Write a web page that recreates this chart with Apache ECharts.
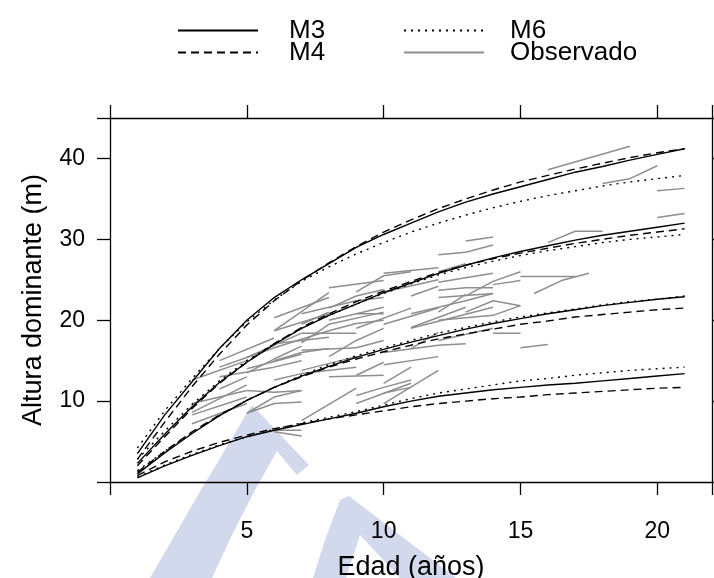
<!DOCTYPE html>
<html>
<head>
<meta charset="utf-8">
<script src="https://cdn.jsdelivr.net/npm/echarts@6/dist/echarts.min.js"></script>
<style>html,body{margin:0;padding:0;background:#fff}#c{width:714px;height:578px}</style>
</head>
<body>
<div id="c"></div>
<script>
// ---- data ----
var ages = [1,2,3,4,5,6,7,8,9,10,11,12,13,14,15,16,17,18,19,20,21];
var xTicks = [0,5,10,15,20];
var yTicks = [0,10,20,30,40];

// M3 (solid) — four site-index curves
var m3A = [3.5,8.3,12.4,16.5,20.0,22.8,25.0,27.0,29.0,30.6,32.0,33.4,34.6,35.6,36.5,37.4,38.3,39.0,39.8,40.5,41.2];
var m3B = [2.3,5.9,9.3,12.3,14.8,17.0,19.0,20.6,22.0,23.4,24.6,25.8,26.8,27.7,28.5,29.2,29.9,30.5,31.0,31.5,32.0];
var m3C = [1.0,3.6,6.0,8.2,10.1,11.7,13.1,14.3,15.4,16.4,17.3,18.1,18.9,19.6,20.2,20.8,21.3,21.8,22.2,22.6,22.9];
var m3D = [0.5,2.0,3.3,4.5,5.6,6.4,7.1,7.8,8.5,9.3,10.0,10.6,11.0,11.4,11.7,12.0,12.2,12.5,12.8,13.1,13.4];
// M4 (dashed)
var m4A = [2.8,7.4,11.8,15.8,19.4,22.4,24.9,27.1,29.1,30.9,32.4,33.8,35.0,36.1,37.1,37.9,38.7,39.4,40.1,40.7,41.2];
var m4B = [2.0,5.6,9.1,12.2,14.8,17.1,19.1,20.8,22.3,23.6,24.8,25.9,26.8,27.6,28.3,28.9,29.5,30.0,30.5,30.9,31.3];
var m4C = [1.2,3.8,6.2,8.3,10.1,11.7,13.0,14.2,15.2,16.1,16.9,17.7,18.3,18.9,19.5,19.9,20.4,20.7,21.0,21.3,21.5];
var m4D = [0.8,2.5,3.8,4.9,5.8,6.6,7.2,7.8,8.3,8.8,9.3,9.7,10.0,10.3,10.5,10.8,11.0,11.2,11.4,11.6,11.7];
// M6 (dotted)
var m6A = [4.2,8.8,12.8,16.5,19.8,22.5,24.8,26.6,28.2,29.6,30.9,32.0,33.0,33.9,34.7,35.4,36.0,36.6,37.1,37.5,37.9];
var m6B = [2.8,6.3,9.6,12.5,15.0,17.1,19.0,20.6,22.0,23.3,24.5,25.6,26.5,27.3,28.0,28.6,29.1,29.6,30.0,30.3,30.6];
var m6C = [1.4,3.8,6.1,8.2,10.1,11.7,13.2,14.5,15.6,16.6,17.5,18.4,19.1,19.8,20.4,20.9,21.4,21.9,22.3,22.6,23.0];
var m6D = [0.6,2.1,3.4,4.6,5.6,6.5,7.3,8.0,8.7,9.5,10.3,11.0,11.5,12.0,12.5,12.8,13.2,13.5,13.8,14.0,14.2];

// Observed plots: [age, height] pairs per plot
var observed = [
 [[16,38.6],[19,41.5]],
 [[18,36.9],[19,37.5],[20,39.1]],
 [[20,36.0],[21,36.3]],
 [[20,32.7],[21,33.2]],
 [[16,29.6],[17,31.0],[18,31.0]],
 [[13,29.8],[14,30.3]],
 [[12,28.1],[13,28.4],[14,29.3]],
 [[15,25.4],[17,25.4]],
 [[15.5,23.3],[16.5,24.9],[17.5,25.8]],
 [[14,24.4],[15,24.9]],
 [[10,25.8],[12,26.5]],
 [[12,23.7],[13,24.0],[14,24.0]],
 [[12,22.8],[14,23.3]],
 [[12,24.7],[14,25.8]],
 [[11,20.8],[13,22.4],[14,23.3]],
 [[11,19.0],[14,21.6]],
 [[13,21.0],[14,22.4],[15,21.8]],
 [[12,20.0],[14,20.6]],
 [[15,16.6],[16,17.0]],
 [[14,18.4],[15,18.4]],
 [[14,20.6],[15,21.8]],
 [[11,19.1],[13,21.6]],
 [[10,16.0],[12,16.9],[13,17.1]],
 [[10,12.2],[11,14.2]],
 [[10,9.7],[12,13.8]],
 [[10,11.0],[11,11.7]],
 [[9,10.7],[10,11.7],[11,12.6]],
 [[9,9.7],[11,12.2]],
 [[7,7.6],[9,11.6]],
 [[6,6.4],[7,6.4]],
 [[6,6.2],[7,5.7]],
 [[5,8.5],[6,9.7],[7,9.9]],
 [[5,8.5],[6,10.5],[7,11.3]],
 [[3,7.2],[5,9.7]],
 [[3,8.6],[5,12.0]],
 [[5,11.3],[6,11.1],[7,11.3]],
 [[3,8.3],[5,10.5]],
 [[8,24.0],[10,24.9]],
 [[6,18.7],[8,23.4]],
 [[7,20.8],[9,22.4],[10,22.8]],
 [[8,20.0],[10,21.6]],
 [[8,18.7],[9,19.6],[10,20.0]],
 [[7,18.4],[9,18.4]],
 [[6,16.6],[8,18.7]],
 [[9,20.8],[10,20.8]],
 [[9,16.6],[10,17.5]],
 [[6,18.7],[8,20.8]],
 [[5,15.4],[7,18.4]],
 [[6,17.1],[8,17.9]],
 [[4,13.0],[6,14.2],[7,15.0]],
 [[3,9.7],[5,11.3]],
 [[7,16.3],[9,16.6]],
 [[6,12.6],[7,13.4],[9,14.2]],
 [[8,13.0],[10,13.2]],
 [[4,14.2],[5,15.4],[6,16.6]],
 [[3,12.6],[5,15.0]],
 [[6,20.3],[8,22.8]],
 [[10,23.5],[12,25.0]],
 [[12,17.5],[14,19.0]],
 [[10,14.5],[12,15.5]],
 [[4,15.0],[6,17.8]],
 [[5,13.5],[6,15.2],[7,16.8]],
 [[7,17.2],[8,19.5],[10,21.0]],
 [[8,21.5],[9,23.0],[10,23.8]],
 [[7,19.5],[8,21.0]],
 [[5,14.0],[7,15.8]],
 [[9,19.0],[11,21.5]],
 [[10,19.5],[11,20.5],[12,21.5]],
 [[11,23.0],[12,24.2]],
 [[9,23.5],[10,25.5],[11,26.0]],
 [[12,26.0],[13,27.0]],
 [[6,15.0],[7,16.0],[8,16.5]],
 [[4,11.5],[5,13.0]],
 [[8,15.5],[9,17.5],[10,19.0]],
 [[11,16.5],[12,18.5]],
 [[13,23.0],[14,24.8],[15,26.0]],
 [[7,13.8],[9,15.5]],
 [[9,13.2],[10,14.8]],
 [[12,21.0],[13,23.2]]
];

// ---- chart ----
var FONT = "'Liberation Sans', Arial, sans-serif";
var chart = echarts.init(document.getElementById('c'), null, {renderer: 'canvas'});
function zipAge(vals){ return ages.map(function(a,i){ return [a, vals[i]]; }); }

var axisLineStyle = {color: '#000', width: 1.3};
var series = [];
observed.forEach(function(seg){
  series.push({name: 'Observado', type: 'line', data: seg, symbol: 'none', showSymbol: false,
    lineStyle: {color: '#8e8e8e', width: 1.5, type: 'solid'}, itemStyle: {color: '#8e8e8e'},
    z: 2, silent: true, animation: false});
});
function model(name, arr, type){
  arr.forEach(function(v){
    series.push({name: name, type: 'line', data: zipAge(v), symbol: 'none', showSymbol: false,
      lineStyle: {color: '#000', width: 1.4, type: type}, itemStyle: {color: '#000'},
      z: 3, silent: true, animation: false});
  });
}
model('M3', [m3A, m3B, m3C, m3D], 'solid');
model('M4', [m4A, m4B, m4C, m4D], [8, 5]);
model('M6', [m6A, m6B, m6C, m6D], [2, 5]);

function legendCfg(left, data, padLeft){
  return {
    orient: 'vertical', top: 14, left: left, padding: 0,
    itemWidth: 80, itemHeight: 14, itemGap: -11,
    selectedMode: false, data: data,
    itemStyle: {opacity: 0},
    textStyle: {fontSize: 26, lineHeight: 26, color: '#000', fontFamily: FONT, padding: [7, 0, 0, padLeft]}
  };
}

chart.setOption({
  animation: false,
  backgroundColor: '#fff',
  textStyle: {fontFamily: FONT},
  graphic: {
    elements: [
      {type: 'polygon', z: -10, silent: true,
       shape: {points: [[150,578],[172,540],[198,495],[225,450],[244,418],[252,405],[309,465],[297,475],[277,451],[255,490],[232,535],[212,578]]},
       style: {fill: '#d3d9ec'}},
      {type: 'polygon', z: -10, silent: true,
       shape: {points: [[313,578],[325,540],[340,500],[349,496],[456,578],[400,578],[360,535],[346,578]]},
       style: {fill: '#d3d9ec'}}
    ]
  },
  legend: [
    legendCfg(177, ['M3', 'M4'], 26),
    legendCfg(403, ['M6', 'Observado'], 21)
  ],
  grid: {left: 110, right: 2, top: 118, bottom: 96, containLabel: false, outerBoundsMode: 'none'},
  xAxis: [
    {type: 'value', min: 0, max: 22, interval: 5, position: 'bottom',
     axisLine: {show: true, onZero: false, lineStyle: axisLineStyle},
     axisTick: {show: true, inside: false, length: 13, lineStyle: axisLineStyle},
     axisLabel: {margin: 38, fontSize: 23, color: '#000', fontFamily: FONT,
       formatter: function(v){ return xTicks.indexOf(v) > 0 ? String(v) : ''; }},
     splitLine: {show: false},
     name: 'Edad (años)', nameLocation: 'middle', nameGap: 72,
     nameTextStyle: {fontSize: 27, color: '#000', fontFamily: FONT}},
    {type: 'value', min: 0, max: 22, interval: 5, position: 'top',
     axisLine: {show: true, onZero: false, lineStyle: axisLineStyle},
     axisTick: {show: true, inside: false, length: 13, lineStyle: axisLineStyle},
     axisLabel: {show: false}, splitLine: {show: false}}
  ],
  yAxis: [
    {type: 'value', min: 0, max: 45, interval: 10, position: 'left',
     axisLine: {show: true, onZero: false, lineStyle: axisLineStyle},
     axisTick: {show: true, inside: false, length: 13, lineStyle: axisLineStyle},
     axisLabel: {margin: 25, fontSize: 23, color: '#000', fontFamily: FONT,
       formatter: function(v){ return yTicks.indexOf(v) > 0 ? String(v) : ''; }},
     splitLine: {show: false},
     name: 'Altura dominante (m)', nameLocation: 'middle', nameGap: 63,
     nameTextStyle: {fontSize: 27, color: '#000', fontFamily: FONT}},
    {type: 'value', min: 0, max: 45, interval: 10, position: 'right',
     axisLine: {show: true, onZero: false, lineStyle: axisLineStyle},
     axisTick: {show: true, inside: false, length: 13, lineStyle: axisLineStyle},
     axisLabel: {show: false}, splitLine: {show: false}}
  ],
  series: series
});
</script>
</body>
</html>
